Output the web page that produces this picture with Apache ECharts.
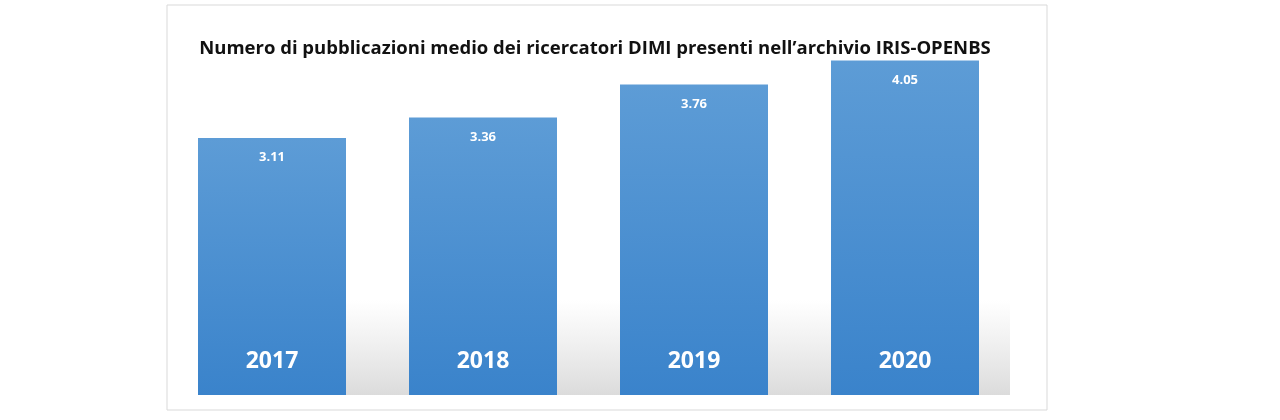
<!DOCTYPE html>
<html>
<head>
<meta charset="utf-8">
<script src="https://cdn.jsdelivr.net/npm/echarts@6/dist/echarts.min.js"></script>
<style>
  html, body { margin: 0; padding: 0; background: #fff; }
  #chart { width: 1280px; height: 420px; }
</style>
</head>
<body>
<div id="chart"></div>
<script>
// dati
const years = ['2017', '2018', '2019', '2020'];
const values = [3.11, 3.36, 3.76, 4.05];
const titleText = 'Numero di pubblicazioni medio dei ricercatori DIMI presenti nell\u2019archivio IRIS-OPENBS';

let chart = echarts.init(document.getElementById('chart'));

chart.setOption({
    animation: false,
    title: {
        text: titleText,
        left: 590,
        textAlign: 'center',
        top: 34,
        textStyle: { fontFamily: 'Open Sans', fontWeight: 'bold', fontSize: 18.5, color: '#111' }
    },
    graphic: [
        { // cornice
            type: 'rect', z: -10,
            shape: { x: 167, y: 5, width: 880, height: 405 },
            style: { fill: '#fff', stroke: '#d9d9d9', lineWidth: 1 }
        },
        { // ombra pavimento
            type: 'polygon', z: -9,
            shape: { points: [[230, 300], [1010, 300], [1010, 395], [200, 395]] },
            style: {
                fill: new echarts.graphic.LinearGradient(0, 0, 0, 1, [
                    { offset: 0, color: 'rgba(200,200,200,0)' },
                    { offset: 1, color: 'rgba(190,190,190,0.55)' }
                ])
            }
        }
    ],
    grid: { left: 166.5, right: 269.5, top: 23.3, bottom: 25 },
    xAxis: {
        type: 'category',
        data: years,
        z: 10,
        axisLine: { show: false },
        axisTick: { show: false },
        axisLabel: {
            inside: true, margin: 22, color: '#fff',
            fontFamily: 'Open Sans', fontWeight: 'bold', fontSize: 23
        }
    },
    yAxis: {
        type: 'value', min: 0, max: 4.5,
        show: false, splitLine: { show: false }
    },
    series: [{
        type: 'bar',
        data: values,
        barWidth: 148,
        itemStyle: {
            color: new echarts.graphic.LinearGradient(0, 0, 0, 1, [
                { offset: 0, color: '#5d9cd6' },
                { offset: 1, color: '#3a83cb' }
            ])
        },
        label: {
            show: true, position: 'insideTop', distance: 13,
            color: '#fff', fontFamily: 'Open Sans', fontWeight: 'bold', fontSize: 13,
            formatter: p => p.value.toFixed(2)
        }
    }]
});

window.onresize = function () { chart.resize(); };
</script>
</body>
</html>
